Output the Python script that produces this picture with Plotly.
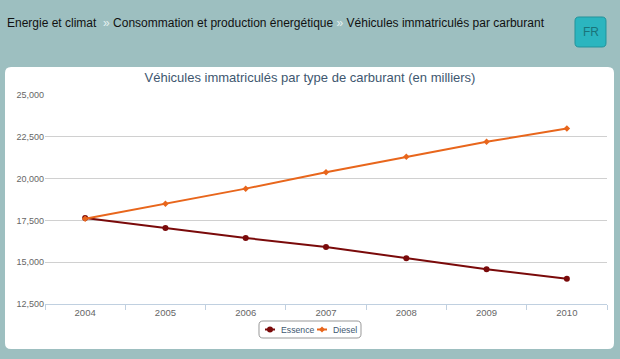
import plotly.graph_objects as go

years = ["2004", "2005", "2006", "2007", "2008", "2009", "2010"]
essence = [17650, 17050, 16450, 15910, 15240, 14580, 14010]
diesel = [17600, 18500, 19400, 20380, 21300, 22200, 23000]
y_ticks = [12500, 15000, 17500, 20000, 22500, 25000]
series_names = ["Essence", "Diesel"]
series_colors = ["#7a0a0a", "#e8661c"]

W, H = 620, 359
L, R, T, B = 45, 607, 95, 304


def ax_x(xpix):
    return (xpix - L) / (R - L)


def ax_y(ypix):
    return (B - ypix) / (B - T)


def rounded(x0, y0, x1, y1, r):
    pts = [
        ("M", [(x0 + r, y0)]), ("L", [(x1 - r, y0)]), ("Q", [(x1, y0), (x1, y0 + r)]),
        ("L", [(x1, y1 - r)]), ("Q", [(x1, y1), (x1 - r, y1)]), ("L", [(x0 + r, y1)]),
        ("Q", [(x0, y1), (x0, y1 - r)]), ("L", [(x0, y0 + r)]), ("Q", [(x0, y0), (x0 + r, y0)]),
    ]
    s = []
    for cmd, ps in pts:
        s.append(cmd + " " + " ".join(f"{ax_x(a):.5f},{ax_y(b):.5f}" for a, b in ps))
    return " ".join(s) + " Z"


def poly(points):
    return "M " + " L ".join(f"{ax_x(a):.5f},{ax_y(b):.5f}" for a, b in points) + " Z"


fig = go.Figure()
fig.add_trace(go.Scatter(x=years, y=essence, name=series_names[0], mode="lines+markers",
                         line=dict(color=series_colors[0], width=2),
                         marker=dict(symbol="circle", size=6, color=series_colors[0]),
                         showlegend=False))
fig.add_trace(go.Scatter(x=years, y=diesel, name=series_names[1], mode="lines+markers",
                         line=dict(color=series_colors[1], width=2),
                         marker=dict(symbol="diamond", size=5, color=series_colors[1]),
                         showlegend=False))

# white card
fig.add_shape(type="path", xref="paper", yref="paper", path=rounded(5, 67, 614, 349, 6),
              fillcolor="white", line=dict(width=0), layer="below")

# FR button
fig.add_shape(type="path", xref="paper", yref="paper", path=rounded(575, 17, 606, 47, 4),
              fillcolor="#2bb5bf", line=dict(width=1, color="#23939b"), layer="below")
fig.add_annotation(xref="paper", yref="paper", x=ax_x(590.5), y=ax_y(32.5), text="FR",
                   showarrow=False, xanchor="center", yanchor="middle",
                   font=dict(family="Liberation Sans, Arial", size=12, color="#1a747a"))

# breadcrumb
sep = '<span style="color:#e4f0f0"> » </span>'
crumb = ("Energie et climat " + sep + "Consommation et production énergétique" + sep +
         "Véhicules immatriculés par carburant")
fig.add_annotation(xref="paper", yref="paper", x=ax_x(5), y=ax_y(23), text=crumb,
                   showarrow=False, xanchor="left", yanchor="middle",
                   font=dict(family="Liberation Sans, Arial", size=12, color="#111111"))

# custom legend
fig.add_shape(type="path", xref="paper", yref="paper", path=rounded(259, 321, 361, 338, 4),
              fillcolor="white", line=dict(width=1, color="#999999"), layer="below")
leg_sym_x = [270, 322]
leg_txt_x = [279, 331]
leg_y = 329.5
for i in range(2):
    cx = leg_sym_x[i]
    fig.add_shape(type="line", xref="paper", yref="paper",
                  x0=ax_x(cx - 5), x1=ax_x(cx + 5), y0=ax_y(leg_y), y1=ax_y(leg_y),
                  line=dict(color=series_colors[i], width=2))
    if i == 0:
        fig.add_shape(type="circle", xref="paper", yref="paper",
                      x0=ax_x(cx - 3), x1=ax_x(cx + 3), y0=ax_y(leg_y - 3), y1=ax_y(leg_y + 3),
                      fillcolor=series_colors[i], line=dict(width=0))
    else:
        fig.add_shape(type="path", xref="paper", yref="paper",
                      path=poly([(cx, leg_y - 3), (cx + 3, leg_y), (cx, leg_y + 3), (cx - 3, leg_y)]),
                      fillcolor=series_colors[i], line=dict(width=0))
    fig.add_annotation(xref="paper", yref="paper", x=ax_x(leg_txt_x[i]), y=ax_y(leg_y),
                       text=series_names[i], showarrow=False, xanchor="left", yanchor="middle",
                       font=dict(family="Liberation Sans, Arial", size=8.7, color="#3e576f"))

fig.update_layout(
    width=W, height=H,
    paper_bgcolor="#9dbfc0",
    plot_bgcolor="rgba(0,0,0,0)",
    margin=dict(l=L, r=W - R, t=T, b=H - B, pad=0),
    title=dict(text="Véhicules immatriculés par type de carburant (en milliers)",
               x=310 / W, xanchor="center", y=1 - 77 / H, yanchor="middle",
               font=dict(family="Liberation Sans, Arial", size=13, color="#3e576f")),
    font=dict(family="Liberation Sans, Arial", size=10, color="#666666"),
    showlegend=False,
    xaxis=dict(type="category", range=[-0.5, 6.5], tickson="boundaries",
               ticks="outside", ticklen=5, tickcolor="#c0d0e0",
               showline=True, linecolor="#c0d0e0", linewidth=1,
               showgrid=False, zeroline=False,
               tickfont=dict(size=9.5, color="#666666")),
    yaxis=dict(range=[12500, 25000], tickvals=y_ticks,
               ticktext=[f"{v:,}" for v in y_ticks],
               showgrid=True, gridcolor="#d0d0d0", gridwidth=1,
               zeroline=False, showline=False, ticks="",
               tickfont=dict(size=9, color="#666666")),
)

fig.write_html("out.html", config={"displayModeBar": False},
               post_script="document.body.style.margin='0px';")
